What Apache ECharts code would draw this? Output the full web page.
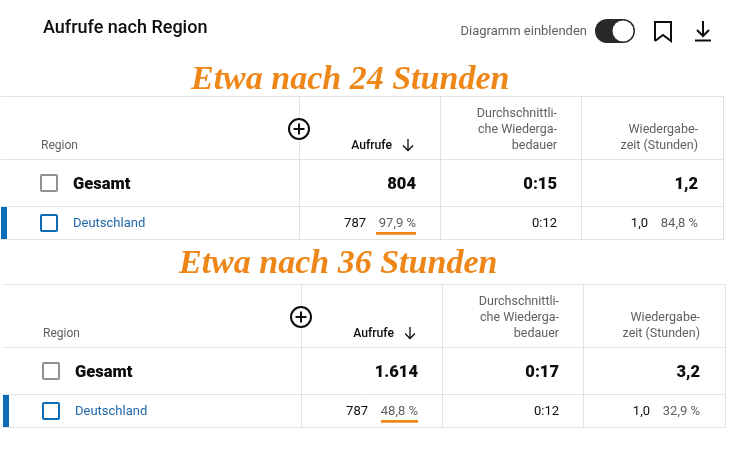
<!DOCTYPE html>
<html><head><meta charset="utf-8">
<style>html,body{margin:0;padding:0;background:#fff}#c{width:732px;height:458px}</style>
<script src="https://cdn.jsdelivr.net/npm/echarts@6/dist/echarts.min.js"></script>
</head><body><div id="c"></div>
<script>
const chartTitle = 'Aufrufe nach Region';
const toggleLabel = 'Diagramm einblenden';
const panelTitles = ['Etwa nach 24 Stunden', 'Etwa nach 36 Stunden'];
const regionHeader = 'Region';
const viewsHeader = 'Aufrufe';
const durationHeader = ['Durchschnittli-', 'che Wiederga-', 'bedauer'];
const watchHeader = ['Wiedergabe-', 'zeit (Stunden)'];
const totalLabel = 'Gesamt';
const regionLabel = 'Deutschland';
const totalViews = ['804', '1.614'];
const totalDuration = ['0:15', '0:17'];
const totalWatch = ['1,2', '3,2'];
const regionViews = ['787', '787'];
const regionViewsShare = ['97,9 %', '48,8 %'];
const regionDuration = ['0:12', '0:12'];
const regionWatch = ['1,0', '1,0'];
const regionWatchShare = ['84,8 %', '32,9 %'];

const FONT = 'Roboto, sans-serif';
const GREY = '#606060', LINE = '#e2e2e2', ORANGE = '#ee8618', BLUE = '#0b6db8';
const els = [];
function text(x, y, s, size, color, align, weight, family, style) {
  els.push({type:'text', silent:true, style:{x, y, text:s, fontSize:size, fill:color,
    align:align||'left', verticalAlign:'middle', fontWeight:weight||400,
    fontFamily:family||FONT, fontStyle:style||'normal'}});
}
function rect(x, y, w, h, opt) {
  els.push({type:'rect', silent:true, shape:{x, y, width:w, height:h, r:(opt.r||0)},
    style:{fill:opt.fill||'none', stroke:opt.stroke||'none', lineWidth:opt.lw||0}});
}
function seg(x1, y1, x2, y2, stroke, lw) {
  els.push({type:'line', silent:true, shape:{x1, y1, x2, y2}, style:{stroke, lineWidth:lw}});
}

// page header
text(43, 28, chartTitle, 18, '#0d0d0d', 'left', 500);
text(587, 32, toggleLabel, 13, GREY, 'right');
rect(595, 19, 40, 24, {fill:'#282828', r:12});
els.push({type:'circle', silent:true, shape:{cx:623, cy:31, r:10.5}, style:{fill:'#fff'}});
els.push({type:'polyline', silent:true, shape:{points:[[655,41],[655,22],[671,22],[671,41],[663,35],[655,41]]}, style:{stroke:'#0d0d0d', lineWidth:2, fill:'none'}});
seg(703, 21, 703, 36, '#0d0d0d', 2);
els.push({type:'polyline', silent:true, shape:{points:[[697,30],[703,36],[709,30]]}, style:{stroke:'#0d0d0d', lineWidth:2, fill:'none'}});
seg(695, 40.5, 711, 40.5, '#0d0d0d', 2);

const panels = [{dx:0, dy:0, tx:191, ty:80}, {dx:2, dy:188, tx:179, ty:264}];
panels.forEach((p, i) => {
  const X = x => x + p.dx, Y = y => y + p.dy;
  text(p.tx, p.ty, panelTitles[i], 34, ORANGE, 'left', 700, '"Liberation Serif", serif', 'italic');
  // grid lines
  [96.5, 159.5, 206.5, 239.5].forEach(y => seg(X(1), Y(y), X(724), Y(y), LINE, 1));
  [299.5, 440.5, 581.5, 723.5].forEach(x => seg(X(x), Y(96.5), X(x), Y(239.5), LINE, 1));
  // header row
  text(X(41), Y(145.5), regionHeader, 12, GREY);
  els.push({type:'circle', silent:true, shape:{cx:X(299), cy:Y(129), r:10}, style:{fill:'#fff', stroke:'#0d0d0d', lineWidth:2}});
  seg(X(293.5), Y(129), X(304.5), Y(129), '#0d0d0d', 2);
  seg(X(299), Y(123.5), X(299), Y(134.5), '#0d0d0d', 2);
  text(X(392), Y(145.5), viewsHeader, 12.2, '#0d0d0d', 'right', 500);
  seg(X(408), Y(139), X(408), Y(150.5), '#0d0d0d', 1.3);
  els.push({type:'polyline', silent:true, shape:{points:[[X(403),Y(145.5)],[X(408),Y(150.5)],[X(413),Y(145.5)]]}, style:{stroke:'#0d0d0d', lineWidth:1.3, fill:'none'}});
  durationHeader.forEach((s, k) => text(X(557), Y(113.5 + k*16), s, 12.5, GREY, 'right'));
  watchHeader.forEach((s, k) => text(X(698), Y(129.5 + k*16), s, 12.5, GREY, 'right'));
  // total row
  rect(X(41), Y(175), 16, 16, {stroke:'#909090', lw:2, r:1});
  text(X(73), Y(185), totalLabel, 16.5, '#0d0d0d', 'left', 900);
  text(X(416), Y(185), totalViews[i], 16.5, '#0d0d0d', 'right', 900);
  text(X(557), Y(185), totalDuration[i], 16.5, '#0d0d0d', 'right', 900);
  text(X(698), Y(185), totalWatch[i], 16.5, '#0d0d0d', 'right', 900);
  // region row
  rect(X(1), Y(207), 6, 32, {fill:BLUE});
  rect(X(41), Y(215), 16, 16, {stroke:BLUE, lw:2, r:1});
  text(X(73), Y(223.5), regionLabel, 13, '#1f66a8');
  text(X(366), Y(223.5), regionViews[i], 13, '#0d0d0d', 'right');
  text(X(416), Y(223.5), regionViewsShare[i], 13, GREY, 'right');
  const ulLeft = i === 0 ? 376 : 379;
  rect(X(ulLeft), Y(232), 416 - ulLeft, 2.8, {fill:ORANGE});
  text(X(557), Y(223.5), regionDuration[i], 13, '#0d0d0d', 'right');
  text(X(648), Y(223.5), regionWatch[i], 13, '#0d0d0d', 'right');
  text(X(698), Y(223.5), regionWatchShare[i], 13, GREY, 'right');
});

const chart = echarts.init(document.getElementById('c'), null, {renderer:'canvas'});
chart.setOption({backgroundColor:'#fff', animation:false, graphic:{elements:els}});
</script></body></html>
